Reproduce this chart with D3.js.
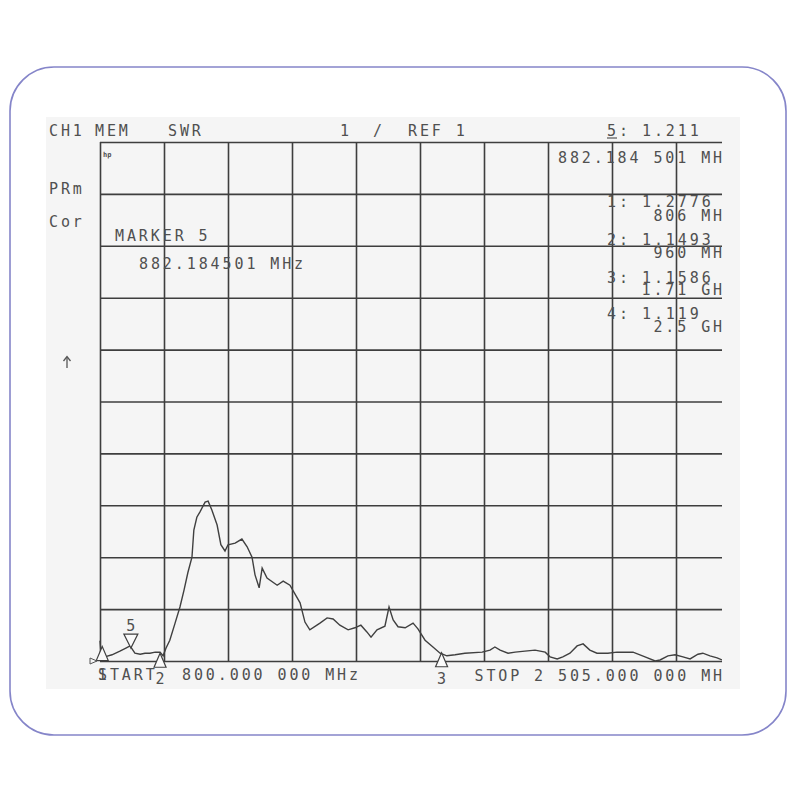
<!DOCTYPE html>
<html>
<head>
<meta charset="utf-8">
<script src="https://cdn.jsdelivr.net/npm/d3@7"></script>
<style>
  body { margin: 0; background: #fff; }
  svg text { font-family: "DejaVu Sans Mono", monospace; font-size: 15px; fill: #505050; letter-spacing: 2.9px; }
</style>
</head>
<body>
<svg width="800" height="800"></svg>
<script>
// SWR trace
const freqMHz = [
    800, 803, 813, 832, 853, 869, 880, 893, 907, 920,
    933, 947, 960, 968, 976, 986, 1000, 1013, 1024, 1034,
    1045, 1050, 1058, 1066, 1080, 1088, 1098, 1112, 1122, 1133,
    1141, 1160, 1178, 1192, 1205, 1213, 1224, 1232, 1245, 1272,
    1288, 1306, 1333, 1346, 1359, 1386, 1405, 1421, 1439, 1461,
    1479, 1495, 1511, 1522, 1538, 1559, 1570, 1581, 1594, 1613,
    1634, 1647, 1666, 1687, 1706, 1724, 1746, 1772, 1818, 1839,
    1852, 1866, 1887, 1906, 1932, 1959, 1986, 1999, 2018, 2033,
    2052, 2071, 2087, 2105, 2124, 2153, 2177, 2220, 2252, 2279,
    2292, 2313, 2332, 2353, 2372, 2393, 2406, 2425, 2444, 2457
];
const swr = [
    1.39, 1.10, 1.08, 1.12, 1.19, 1.25, 1.29, 1.15, 1.13, 1.15,
    1.15, 1.17, 1.17, 1.10, 1.25, 1.40, 1.73, 2.04, 2.37, 2.70,
    3.00, 3.52, 3.77, 3.87, 4.06, 4.08, 3.91, 3.62, 3.24, 3.12,
    3.24, 3.27, 3.35, 3.20, 3.00, 2.66, 2.41, 2.79, 2.60, 2.46,
    2.54, 2.46, 2.12, 1.75, 1.60, 1.73, 1.83, 1.81, 1.69, 1.60,
    1.64, 1.69, 1.56, 1.46, 1.60, 1.67, 2.04, 1.79, 1.66, 1.64,
    1.73, 1.62, 1.40, 1.27, 1.15, 1.10, 1.12, 1.15, 1.17, 1.21,
    1.27, 1.21, 1.15, 1.17, 1.19, 1.21, 1.17, 1.08, 1.04, 1.08,
    1.15, 1.29, 1.33, 1.21, 1.15, 1.15, 1.17, 1.17, 1.08, 1.00,
    1.02, 1.10, 1.12, 1.08, 1.04, 1.13, 1.15, 1.10, 1.06, 1.02
];

// markers
const markerIds = ["1", "2", "3", "4", "5"];
const markerMHz = [806, 960, 1710, 2500, 882.184501];
const markerSwr = ["1.2776", "1.1493", "1.1586", "1.119", "1.211"];
const markerFreqText = ["806 MH", "960 MH", "1.71 GH", "2.5 GH"];

// grid (10 div), start/stop
const xGridMHz = [800, 970.5, 1141, 1311.5, 1482, 1652.5, 1823, 1993.5, 2164, 2334.5, 2505];
const yGridSwr = [1, 2, 3, 4, 5, 6, 7, 8, 9, 10, 11];
const headerLabels = ["CH1", "MEM", "SWR", "1", "/", "REF 1"];
const sideLabels = ["PRm", "Cor"];
const startText = "800.000 000 MHz";
const stopText = "STOP 2 505.000 000 MH";

const svg = d3.select("svg");
const plotLeft = 100, plotRight = 722, plotTop = 142, plotBottom = 661;

var x = d3.scaleLinear().domain([800, 2505]).range([plotLeft, 740]);
var y = d3.scaleLinear().domain([1, 11]).range([plotBottom, plotTop]);

// frame + scanned paper
svg.append("rect").attr("x", 10).attr("y", 67).attr("width", 776).attr("height", 668)
    .attr("rx", 44).attr("fill", "#fff").attr("stroke", "#8585c9").attr("stroke-width", 1.6);
svg.append("rect").attr("x", 46).attr("y", 117).attr("width", 694).attr("height", 572).attr("fill", "#f5f5f5");

svg.append("defs").append("clipPath").attr("id", "plotclip")
    .append("rect").attr("x", 85).attr("y", 100).attr("width", plotRight - 85).attr("height", 600);

var plot = svg.append("g").attr("clip-path", "url(#plotclip)");

// grid via axes
plot.append("g").attr("transform", "translate(0," + plotBottom + ")")
    .call(d3.axisBottom(x).tickValues(xGridMHz).tickSize(-(plotBottom - plotTop)).tickFormat(""));
plot.append("g").attr("transform", "translate(" + plotLeft + ",0)")
    .call(d3.axisLeft(y).tickValues(yGridSwr).tickSize(-(plotRight - plotLeft)).tickFormat(""));
svg.selectAll(".domain").remove();
svg.selectAll(".tick line").attr("stroke", "#3e3e3e").attr("stroke-width", 1.6);

// trace
var line = d3.line().x(function (d, i) { return x(freqMHz[i]); }).y(function (d) { return y(d); });
plot.append("path").datum(swr)
    .attr("d", line).attr("fill", "none").attr("stroke", "#404040").attr("stroke-width", 1.4);

// ref position indicator
svg.append("path").attr("d", "M90,658 L90,664 L97,661 Z").attr("fill", "none").attr("stroke", "#555").attr("stroke-width", 1);

function txt(s, px, py, anchor, size, spacing) {
    var t = svg.append("text").attr("x", px).attr("y", py).text(s);
    if (anchor) t.attr("text-anchor", anchor);
    if (size) t.style("font-size", size + "px");
    if (spacing !== undefined) t.style("letter-spacing", spacing + "px");
    return t;
}

// markers: 1-3 below trace, active 5 above
for (let i = 0; i < 3; i++) {
    let mx = x(markerMHz[i]), my = y(+markerSwr[i]);
    plot.append("path").attr("d", "M" + mx + "," + my + " L" + (mx - 6) + "," + (my + 14) + " L" + (mx + 6) + "," + (my + 14) + " Z")
        .attr("fill", "#fafafa").attr("stroke", "#404040").attr("stroke-width", 1.2);
}
txt(markerIds[0], x(markerMHz[0]), 680, "middle", 15, 0);
txt(markerIds[1], x(markerMHz[1]), 684, "middle", 15, 0);
txt(markerIds[2], x(markerMHz[2]), 684, "middle", 15, 0);
var m5x = x(markerMHz[4]), m5y = y(+markerSwr[4]) - 2;
plot.append("path").attr("d", "M" + m5x + "," + m5y + " L" + (m5x - 7) + "," + (m5y - 14) + " L" + (m5x + 7) + "," + (m5y - 14) + " Z")
    .attr("fill", "#fafafa").attr("stroke", "#404040").attr("stroke-width", 1.2);
txt(markerIds[4], m5x, m5y - 17, "middle", 15, 0);

// header
txt(headerLabels[0], 49, 136);
txt(headerLabels[1], 95, 136);
txt(headerLabels[2], 168, 136);
txt(headerLabels[3], 340, 136);
txt(headerLabels[4], 373, 136);
txt(headerLabels[5], 408, 136);
txt(markerIds[4] + ":", 607, 136);
svg.append("line").attr("x1", 607).attr("x2", 617).attr("y1", 138).attr("y2", 138).attr("stroke", "#555").attr("stroke-width", 1.2);
txt(markerSwr[4], 642, 136);
txt("882.184 501 MH", 725, 163, "end");

// marker list
var valY = [207, 245, 283, 319], frY = [221, 258, 295, 332];
for (let i = 0; i < 4; i++) {
    txt(markerIds[i] + ":", 607, valY[i]);
    txt(markerSwr[i], 642, valY[i]);
    txt(markerFreqText[i], 725, frY[i], "end");
}

// left annotations
txt(sideLabels[0], 49, 194);
txt(sideLabels[1], 49, 227);
svg.append("line").attr("x1", 67).attr("x2", 67).attr("y1", 357).attr("y2", 368).attr("stroke", "#555").attr("stroke-width", 1.3);
svg.append("path").attr("d", "M63.5,361 L67,356.5 L70.5,361").attr("fill", "none").attr("stroke", "#555").attr("stroke-width", 1.3);
txt("hp", 103, 157, null, 7, 0).style("font-weight", "bold");
txt("MARKER 5", 115, 241);
txt("882.184501 MHz", 139, 269);

// bottom
txt("START", 98, 680);
txt(startText, 182, 680);
txt(stopText, 725, 681, "end");
</script>
</body>
</html>
